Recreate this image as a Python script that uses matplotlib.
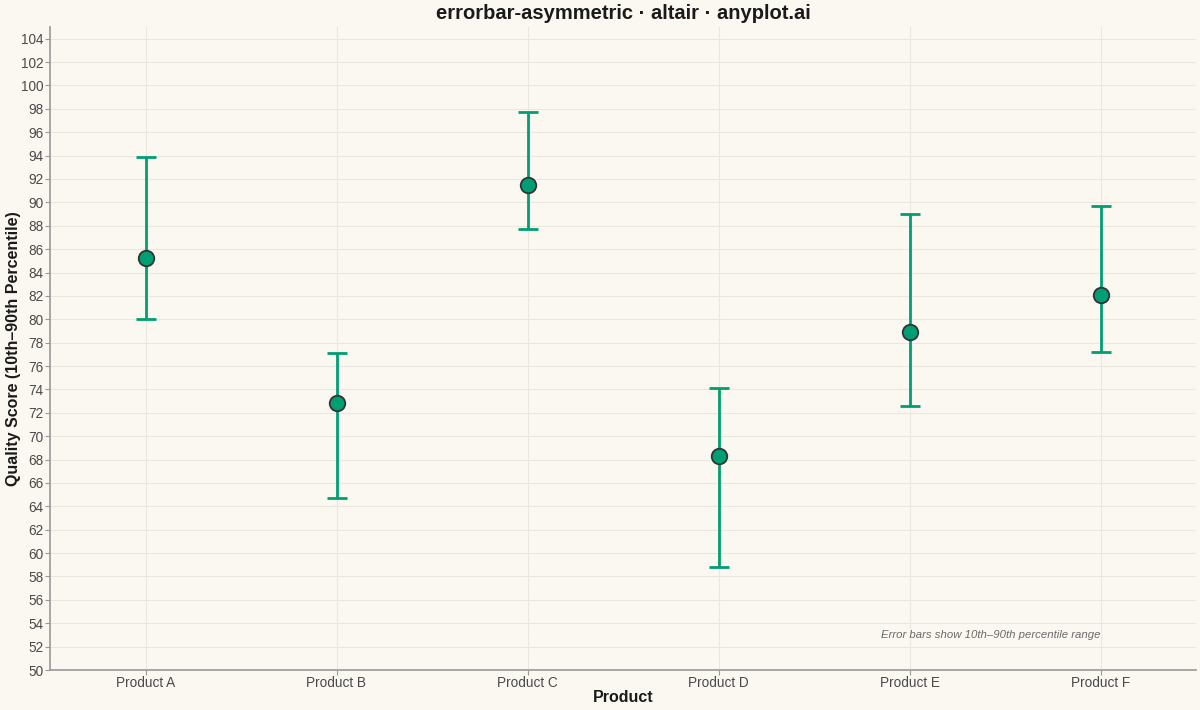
import numpy as np
import matplotlib.pyplot as plt

# ====================================
# Data
# ====================================

products = ["Product A", "Product B", "Product C", "Product D", "Product E", "Product F"]
mean_score = [85.2, 72.8, 91.5, 68.3, 78.9, 82.1]
p10_score = [80.0, 64.7, 87.7, 58.8, 72.6, 77.2]
p90_score = [93.9, 77.1, 97.7, 74.1, 89.0, 89.7]

y_ticks = list(range(50, 105, 2))

# ====================================
# Style
# ====================================

plt.rcParams["font.family"] = ["Liberation Sans", "DejaVu Sans"]

bg = "#FAF8F1"
green = "#009E73"
ink = "#1a1a1a"
muted = "#4a4a4a"

fig = plt.figure(figsize=(12, 7.1), dpi=100, facecolor=bg)
ax = fig.add_axes([50 / 1200, 40 / 710, 1146 / 1200, 643 / 710])
ax.set_facecolor(bg)

x = np.arange(len(products))
mean_arr = np.array(mean_score)
lower_err = mean_arr - np.array(p10_score)
upper_err = np.array(p90_score) - mean_arr

ax.errorbar(
    x,
    mean_arr,
    yerr=[lower_err, upper_err],
    fmt="none",
    ecolor=green,
    elinewidth=2.0,
    capsize=7.5,
    capthick=2.0,
    zorder=3
)

ax.scatter(
    x,
    mean_arr,
    s=125,
    color=green,
    edgecolor="#333333",
    linewidth=1.3,
    zorder=4
)

# ====================================
# Axes
# ====================================

ax.set_xlim(-0.5, len(products) - 0.5)
ax.set_ylim(50, 105)
ax.set_xticks(x)
ax.set_xticklabels(products)
ax.set_yticks(y_ticks)

ax.grid(True, color="#ebe7de", linewidth=0.8, zorder=0)
ax.set_axisbelow(True)

for side in ["top", "right"]:
    ax.spines[side].set_visible(False)
for side in ["left", "bottom"]:
    ax.spines[side].set_color("#999999")
    ax.spines[side].set_linewidth(1.2)

ax.tick_params(axis="both", colors="#999999", labelcolor=muted, labelsize=9.8, length=3.5, width=0.8, pad=1)

ax.set_xlabel("Product", fontsize=11.5, fontweight="bold", color=ink)
ax.xaxis.set_label_coords(0.5, -28 / 643)
ax.xaxis.label.set_va("center")

ax.set_ylabel("Quality Score (10th–90th Percentile)", fontsize=11.5, fontweight="bold", color=ink)
ax.yaxis.set_label_coords(-36 / 1146, 0.5)
ax.yaxis.label.set_va("center")

ax.set_title("errorbar-asymmetric · altair · anyplot.ai", fontsize=14.5, fontweight="bold", color=ink, pad=6)

ax.text(
    x[-1],
    53,
    "Error bars show 10th–90th percentile range",
    ha="right",
    va="center",
    fontsize=8.2,
    style="italic",
    color="#6a6a6a"
)

plt.savefig("out.png", dpi=100, facecolor=bg)
